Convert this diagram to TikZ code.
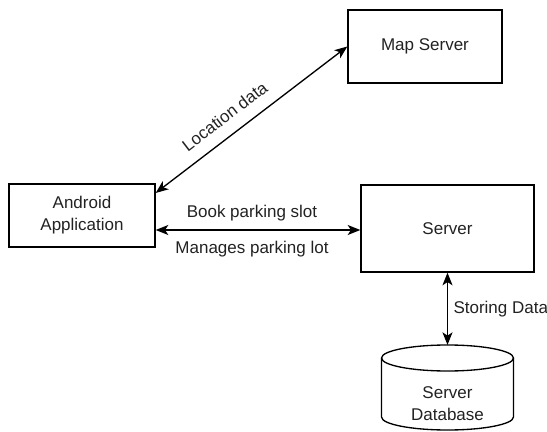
\documentclass[tikz,border=0pt]{standalone}
\usepackage{fontspec}
\setmainfont{Liberation Sans}
\usetikzlibrary{arrows.meta}
\definecolor{ink}{HTML}{222222}
\begin{document}
\begin{tikzpicture}[x=0.75pt,y=-0.75pt,
  font=\fontsize{12.75}{16.5}\selectfont, text=ink,
  box/.style={draw, line width=1pt, inner sep=0pt, align=center},
  link/.style={line width=1pt, {Stealth[length=9.5pt,width=7.5pt,inset=2.5pt]}-{Stealth[length=9.5pt,width=7.5pt,inset=2.5pt]}},
  lbl/.style={inner sep=0pt, align=center}]
\useasboundingbox (0,0) rectangle (547,432);

% boxes
\node[box, minimum width=109.5pt, minimum height=47.25pt] (and) at (82,215.5) {Android\\Application};
\node[box, minimum width=115.5pt, minimum height=54.75pt] (map) at (425,46.5) {Map Server};
\node[box, minimum width=129.75pt, minimum height=65.25pt] (srv) at (447.5,228.5) {Server};

% database cylinder
\coordinate (dbtop) at (447.5,345);
\draw[line width=1pt] (447.5,358) ellipse (49.5pt and 9.75pt);
\draw[line width=1pt] (381.5,358) -- (381.5,417) arc (180:360:49.5pt and 9.75pt) -- (513.5,358);
\node[lbl] (db) at (447.5,404) {Server\\Database};

% connectors
\draw[link] (and.17) -- node[lbl, pos=0.42, sloped, above=9pt] (loc) {Location data} (map.west);
\draw[link] (and.east |- 0,230) -- (srv.west |- 0,230);
\node[lbl] (book) at (252,213) {Book parking slot};
\node[lbl] (mgr) at (252,249) {Manages parking lot};
\draw[link] (srv.south) -- node[lbl, right=4pt] (store) {Storing Data} (dbtop);
\end{tikzpicture}
\end{document}
